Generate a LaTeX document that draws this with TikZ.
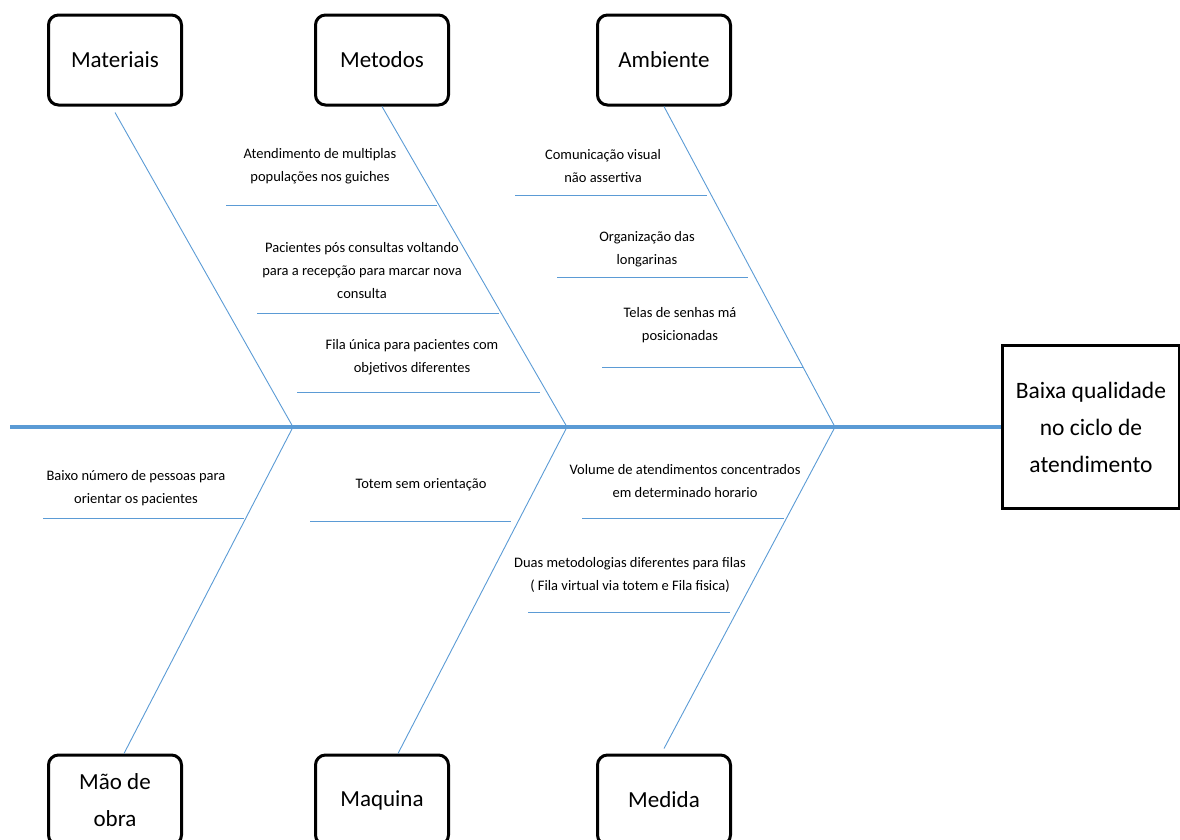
\documentclass[tikz,border=0pt]{standalone}
\usepackage{fontspec}
\setmainfont{Carlito}
\definecolor{bonecol}{HTML}{5B9BD5}

\begin{document}
\begin{tikzpicture}[x=1pt,y=-1pt,
    cause/.style={draw, line width=3pt, rounded corners=10pt, minimum width=133pt, minimum height=90pt, align=center, font=\fontsize{23}{37}\selectfont},
    effect/.style={draw, line width=3.5pt, minimum width=177pt, minimum height=163pt, align=center, font=\fontsize{23.5}{37}\selectfont},
    bone/.style={bonecol, line width=0.9pt},
    note/.style={align=center, inner sep=0pt, font=\fontsize{14.5}{23}\selectfont}]
    \useasboundingbox (0,0) rectangle (1180,839);
    \clip (0,0) rectangle (1180,839);

    % Effect box and spine
    \node[effect] (effect) at (1091,427) {Baixa qualidade\\no ciclo de\\atendimento};
    \coordinate (tail) at (10,427);
    \draw[bone, line width=4pt] (tail) -- (effect.west);

    % Cause boxes
    \node[cause] (materiais) at (115,60) {Materiais};
    \node[cause] (metodos) at (382,60) {Metodos};
    \node[cause] (ambiente) at (664,60) {Ambiente};
    \node[cause] (mao) at (115,800) {Mão de\\obra};
    \node[cause] (maquina) at (382,800) {Maquina};
    \node[cause] (medida) at (664,800) {Medida};

    % Joints on the spine
    \coordinate (j1) at (293,427);
    \coordinate (j2) at (567,427);
    \coordinate (j3) at (835,427);

    % Main bones
    \draw[bone] ([yshift=-6pt]materiais.south) -- (j1);
    \draw[bone] (metodos.south) -- (j2);
    \draw[bone] (ambiente.south) -- (j3);
    \draw[bone] (j1) -- ([xshift=9pt]mao.north);
    \draw[bone] (j2) -- ([xshift=16pt]maquina.north);
    \draw[bone] (j3) -- ([yshift=5pt]medida.north);

    % Sub bones with their notes
    \foreach \xa/\xb/\ly/\tx/\ty/\txt [count=\i] in {
        226/437/205/320/166/{Atendimento de multiplas\\populações nos guiches},
        257/499/313/362/271/{Pacientes pós consultas voltando\\para a recepção para marcar nova\\consulta},
        297/540/392/412/357/{Fila única para pacientes com\\objetivos diferentes},
        515/707/195/603/166/{Comunicação visual\\não assertiva},
        557/748/277/647/249/{Organização das\\longarinas},
        602/803/367/680/325/{Telas de senhas má\\posicionadas},
        43/244/518/136/488/{Baixo número de pessoas para\\orientar os pacientes},
        310/511/521/421/485/{Totem sem orientação},
        582/784/518/685/481/{Volume de atendimentos concentrados\\em determinado horario},
        528/730/612/630/575/{Duas metodologias diferentes para filas\\( Fila virtual via totem e Fila fisica)}} {
        \draw[bone] (\xa,\ly) -- (\xb,\ly);
        \node[note] (note\i) at (\tx,\ty) {\txt};
    }
\end{tikzpicture}
\end{document}
